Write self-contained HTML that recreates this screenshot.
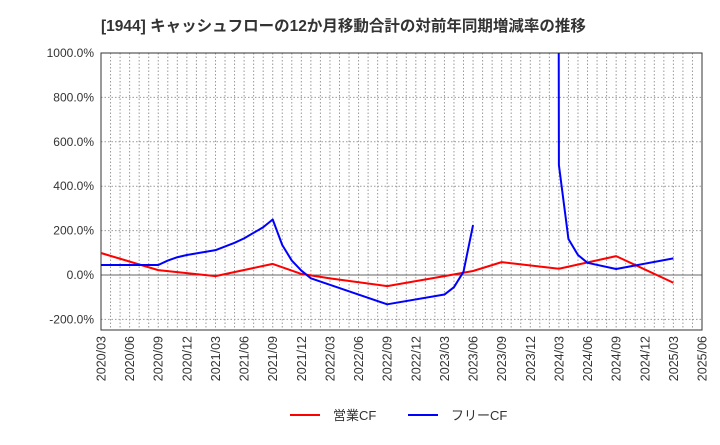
<!DOCTYPE html>
<html><head><meta charset="utf-8">
<style>
body{margin:0;background:#fff;}
svg text{font-family:"Liberation Sans","Noto Sans CJK JP",sans-serif;}
</style></head>
<body>
<svg id="c" width="720" height="440" xmlns="http://www.w3.org/2000/svg">
<text x="101" y="31" font-size="15.5" font-weight="bold" fill="#333">[1944]  キャッシュフローの12か月移動合計の対前年同期増減率の推移</text>
<g id="grid"></g>
<g id="axes"></g>
<defs><clipPath id="pc"><rect x="101" y="53" width="601" height="277"/></clipPath></defs>
<g id="series" clip-path="url(#pc)"></g>
<g>
<line x1="290" y1="415" x2="320" y2="415" stroke="#f00" stroke-width="2"/>
<text x="333" y="420" font-size="13" fill="#333">営業CF</text>
<line x1="408" y1="415" x2="438" y2="415" stroke="#00f" stroke-width="2"/>
<text x="451" y="420" font-size="13" fill="#333">フリーCF</text>
</g>
</svg>
<script>
const yTicks=[1000,800,600,400,200,0,-200];
const xLabels=["2020/03","2020/06","2020/09","2020/12","2021/03","2021/06","2021/09","2021/12","2022/03","2022/06","2022/09","2022/12","2023/03","2023/06","2023/09","2023/12","2024/03","2024/06","2024/09","2024/12","2025/03","2025/06"];
// month index from 2020/03
const opMonths=[0,6,12,18,21,24,30,36,39,42,48,54,60];
const opValues=[99,22,-5,50,5,-15,-50,-5,18,58,28,85,-35];
const fcfMonths=[0,3,6,7,8,9,12,14,15,17,18,19,20,21,22,30,36,37,38,39,null,47,48,49,50,51,54,60];
const fcfValues=[45,45,45,65,80,90,112,145,165,215,250,135,65,20,-15,-132,-88,-55,15,225,null,30000,495,162,90,55,27,75];
const X0=101,X1=702,Y0=53,Y1=330;
const xs=m=>X0+m*(X1-X0)/63;
const ys=v=>275-v*(275-53)/1000;
const NS="http://www.w3.org/2000/svg";
function mk(t,a,p){const e=document.createElementNS(NS,t);for(const k in a)e.setAttribute(k,a[k]);p.appendChild(e);return e;}
const g=document.getElementById('grid'),ax=document.getElementById('axes'),s=document.getElementById('series');
for(let m=1;m<63;m++){const l=mk('line',{x1:xs(m),x2:xs(m),y1:Y0,y2:Y1,stroke:'#999','stroke-dasharray':'1.5,2','stroke-width':1},g);
}
yTicks.forEach(v=>{const l=mk('line',{x1:X0,x2:X1,y1:ys(v),y2:ys(v),stroke:v===0?'#666':'#999','stroke-dasharray':v===0?'':'1.5,2','stroke-width':1},g);

const t=mk('text',{x:X0-7,y:ys(v)+4,'text-anchor':'end','font-size':12,fill:'#333'},ax);t.textContent=v.toFixed(1)+'%';
});
const r=mk('rect',{x:X0,y:Y0,width:X1-X0,height:Y1-Y0,fill:'none',stroke:'#333','stroke-width':1},ax);

xLabels.forEach((lb,i)=>{const x=xs(i*3);const t=mk('text',{x:0,y:0,transform:`translate(${x+4.5},${Y1+6}) rotate(-90)`,'text-anchor':'end','font-size':12.5,fill:'#333'},ax);t.textContent=lb;
});
function path(ms,vs,col,name){let d='',pen=false;ms.forEach((m,i)=>{if(m===null){pen=false;return;}d+=(pen?'L':'M')+xs(m).toFixed(2)+','+ys(vs[i]).toFixed(2);pen=true;});
const p=mk('path',{d:d,fill:'none',stroke:col,'stroke-width':2,'stroke-linejoin':'round'},s);}
path(opMonths,opValues,'#f00','operating-cf-line');
path(fcfMonths,fcfValues,'#00f','free-cf-line');
</script>
</body></html>
